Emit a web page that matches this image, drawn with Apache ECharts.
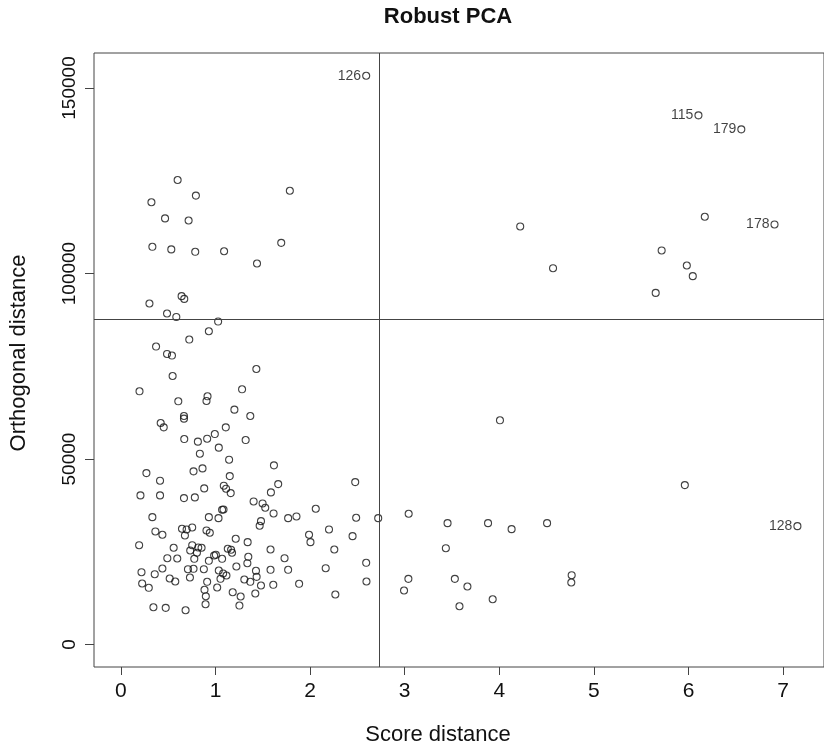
<!DOCTYPE html>
<html>
<head>
<meta charset="utf-8">
<script src="https://cdn.jsdelivr.net/npm/echarts@6/dist/echarts.min.js"></script>
<style>
  html, body { margin: 0; padding: 0; background: #fff; }
  #chart { width: 824px; height: 749px; }
</style>
</head>
<body>
<div id="chart"></div>
<script>
// ---- data ----
const scoreDist = [
  0.600, 0.793, 0.323, 1.786, 0.467, 0.716, 0.333, 0.533, 0.786, 1.091,
  1.695, 1.439, 0.642, 0.670, 0.302, 0.488, 0.586, 1.028, 0.930, 0.723,
  6.172, 4.221, 5.716, 4.568, 5.982, 6.045, 5.653,
  4.007, 5.961, 2.720, 3.042, 3.453, 3.881, 4.130, 4.505, 3.435, 3.039,
  2.993, 3.530, 3.663, 3.579, 3.930, 4.765, 4.761,
  0.372, 0.488, 0.540, 1.432, 0.547, 0.197, 1.281, 0.607, 0.916, 0.905,
  1.200, 0.667, 0.667, 1.368, 0.421, 0.453, 1.109, 0.670, 0.814, 0.912,
  0.993, 1.319, 1.035, 0.835, 1.144, 1.618, 0.270, 0.768, 0.863, 1.151,
  0.414, 1.663, 1.088, 1.112, 1.161, 0.881, 1.586, 0.207, 0.414, 0.667,
  0.782, 1.403, 1.498, 1.526, 2.060, 2.477, 1.070, 1.085, 1.614, 0.333,
  0.930, 1.032, 1.768, 1.856, 2.487, 1.481, 1.467, 0.365, 0.439, 0.646,
  0.695, 0.754, 0.677, 0.905, 0.940, 1.989, 2.004, 2.200, 2.449, 0.193,
  0.558, 1.214, 1.340, 1.582, 2.256, 0.754, 0.818, 0.853, 0.733, 1.130,
  1.165, 1.175, 0.804, 0.491, 0.596, 0.776, 0.930, 0.986, 1.004, 1.070,
  1.347, 1.337, 1.221, 1.730, 2.593, 0.218, 0.358, 0.439, 0.709, 0.768,
  0.877, 1.035, 1.081, 1.116, 1.053, 1.428, 1.435, 1.582, 1.768, 2.165,
  0.225, 0.295, 0.516, 0.575, 0.730, 0.912, 0.884, 0.898, 0.895, 1.018,
  1.182, 1.266, 1.253, 1.305, 1.368, 1.481, 1.421, 1.611, 1.884, 2.267,
  2.596, 0.344, 0.474, 0.684
];
const orthoDist = [
  125200, 121000, 119200, 122300, 114850, 114300, 107200, 106500, 105850, 106000,
  108270, 102700, 93900, 93160, 91920, 89220, 88300, 87060, 84450, 82200,
  115290, 112690, 106220, 101440, 102170, 99290, 94780,
  60440, 42980, 34080, 35260, 32730, 32730, 31110, 32730, 25980, 17720,
  14570, 17720, 15650, 10340, 12220, 18700, 16730,
  80320, 78330, 77890, 74280, 72390, 68260, 68800, 65560, 66910, 65640,
  63320, 61600, 60890, 61600, 59710, 58550, 58550, 55390, 54690, 55490,
  56740, 55120, 53070, 51450, 49830, 48300, 46220, 46680, 47480, 45410,
  44170, 43250, 42820, 42010, 40820, 42090, 41010, 40200, 40200, 39480,
  39660, 38580, 38040, 36880, 36610, 43790, 36340, 36400, 35340, 34350,
  34350, 34080, 34080, 34530, 34180, 33270, 32020, 30490, 29600, 31220,
  31030, 31570, 29410, 30760, 30130, 29600, 27600, 31030, 29220, 26790,
  26090, 28520, 27600, 25630, 25630, 26790, 26170, 26090, 25360, 25820,
  25550, 24740, 24740, 23280, 23200, 23120, 22580, 24010, 24200, 23120,
  23660, 21940, 21040, 23280, 22040, 19510, 18970, 20500, 20320, 20420,
  20320, 19970, 19160, 18620, 17730, 19880, 18260, 20150, 20150, 20590,
  16460, 15300, 17810, 17000, 18080, 16920, 14760, 13030, 10870, 15380,
  14110, 12950, 10520, 17540, 16920, 15920, 13760, 16110, 16380, 13490,
  17000, 10060, 9900, 9250
];
// flagged (labelled) observations
const flagIds   = ['126', '115', '179', '178', '128'];
const flagScore = [2.593, 6.105, 6.558, 6.909, 7.151];
const flagOrtho = [153300, 142630, 138860, 113230, 31920];
// cut-off lines
const cutScore = 2.726;
const cutOrtho = 87600;
// tick labels
const xTicks = [0, 1, 2, 3, 4, 5, 6, 7];
const yTicks = [0, 50000, 100000, 150000];

const FONT = "'Liberation Sans', Arial, Helvetica, sans-serif";
const points = scoreDist.map((s, i) => [s, orthoDist[i]]);
const flagged = flagIds.map((id, i) => ({ name: id, value: [flagScore[i], flagOrtho[i]] }));

const chart = echarts.init(document.getElementById('chart'), null, { renderer: 'canvas' });
chart.setOption({
  backgroundColor: '#ffffff',
  animation: false,
  title: [
    { text: 'Robust PCA', left: 448, top: 6, textAlign: 'center', padding: 0,
      textStyle: { fontFamily: FONT, fontWeight: 'bold', fontSize: 22, color: '#111' } },
    { text: 'Score distance', left: 438, top: 724, textAlign: 'center', padding: 0,
      textStyle: { fontFamily: FONT, fontWeight: 'normal', fontSize: 22, color: '#111' } }
  ],
  grid: { left: 93, top: 53, right: -2, bottom: 82, show: true,
          borderColor: '#444', borderWidth: 1, backgroundColor: 'transparent' },
  xAxis: {
    type: 'value', min: -0.284, max: 7.432,
    axisLine: { show: false, onZero: false },
    splitLine: { show: false },
    axisTick: { show: true, length: 8, customValues: xTicks, lineStyle: { color: '#444' } },
    axisLabel: { customValues: xTicks, margin: 14, fontSize: 21, fontFamily: FONT, color: '#111',
                 formatter: v => String(v) }
  },
  yAxis: {
    type: 'value', min: -6040, max: 159430,
    name: 'Orthogonal distance', nameLocation: 'middle', nameRotate: 90, nameGap: 64,
    nameTextStyle: { fontFamily: FONT, fontSize: 22, color: '#111', padding: [0, 0, 0, 14] },
    axisLine: { show: false, onZero: false },
    splitLine: { show: false },
    axisTick: { show: true, length: 9, customValues: yTicks, lineStyle: { color: '#444' } },
    axisLabel: { customValues: yTicks, rotate: 90, margin: 15, fontSize: 19, fontFamily: FONT, color: '#111',
                 formatter: v => String(v) }
  },
  series: [
    {
      type: 'scatter', data: points, symbol: 'circle', symbolSize: 7,
      itemStyle: { color: 'rgba(0,0,0,0)', borderColor: '#111', borderWidth: 1.1 },
      markLine: {
        silent: true, symbol: 'none', animation: false,
        label: { show: false },
        lineStyle: { color: '#444', width: 1, type: 'solid' },
        data: [{ xAxis: cutScore }, { yAxis: cutOrtho }]
      }
    },
    {
      type: 'scatter', data: flagged, symbol: 'circle', symbolSize: 7,
      itemStyle: { color: 'rgba(0,0,0,0)', borderColor: '#111', borderWidth: 1.1 },
      label: { show: true, position: 'left', distance: 1, formatter: p => p.name,
               fontFamily: FONT, fontSize: 14, color: '#111' }
    }
  ]
});
</script>
</body>
</html>
